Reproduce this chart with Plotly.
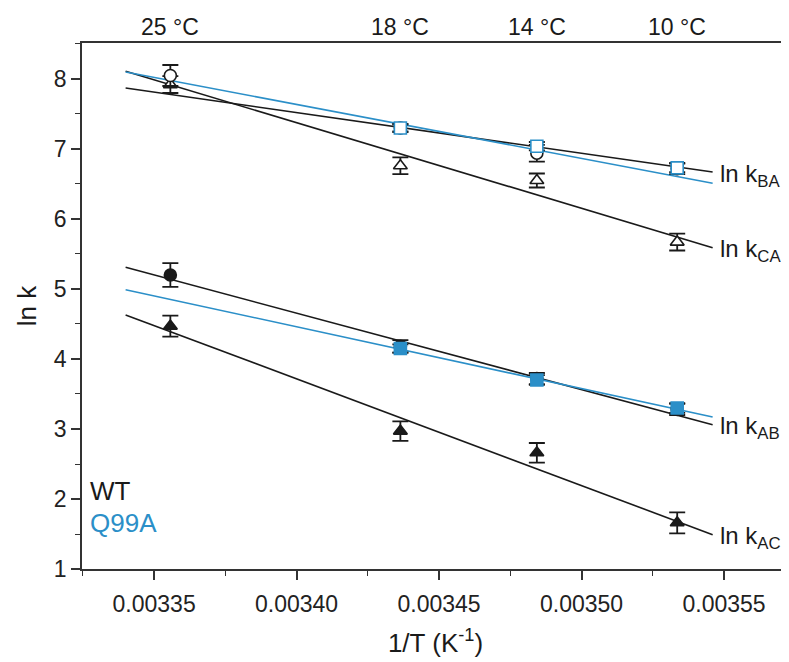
import plotly.graph_objects as go

# ---- data ----
temps_C = [25, 18, 14, 10]
T_K = [298, 291, 287, 283]
inv_T = [1.0 / t for t in T_K]
inv_T_q = inv_T[1:]  # Q99A measured at 18, 14, 10 C

WT_kBA = [8.05, 7.30, 6.94, 6.72]
WT_kBA_err = [0.15, 0.06, 0.12, 0.08]
WT_kCA = [7.92, 6.76, 6.55, 5.67]
WT_kCA_err = [0.12, 0.12, 0.10, 0.12]
WT_kAB = [5.20, 4.18, 3.72, 3.28]
WT_kAB_err = [0.17, 0.09, 0.08, 0.08]
WT_kAC = [4.47, 2.97, 2.66, 1.66]
WT_kAC_err = [0.15, 0.14, 0.14, 0.15]

Q_kBA = [7.30, 7.04, 6.73]
Q_kBA_err = [0.05, 0.06, 0.06]
Q_kAB = [4.15, 3.70, 3.30]
Q_kAB_err = [0.06, 0.07, 0.07]

# fitted Arrhenius lines (values at the ends of the fit range)
fit_x = [0.00334, 0.003546]
WT_kBA_fit = [7.87, 6.67]
WT_kCA_fit = [8.11, 5.59]
WT_kAB_fit = [5.31, 3.06]
WT_kAC_fit = [4.63, 1.49]
Q_kBA_fit = [8.10, 6.51]
Q_kAB_fit = [4.99, 3.17]

x_ticks = [0.00335, 0.00340, 0.00345, 0.00350, 0.00355]
x_ticklabels = ["0.00335", "0.00340", "0.00345", "0.00350", "0.00355"]
right_labels = ["ln k<sub>BA</sub>", "ln k<sub>CA</sub>", "ln k<sub>AB</sub>", "ln k<sub>AC</sub>"]

BLACK = "#1a1a1a"
BLUE = "#2b8fc8"
FONT = "Liberation Sans Narrow, Arial Narrow, Liberation Sans, Arial, sans-serif"

fig = go.Figure()

# fit lines
for ys, col in [(WT_kBA_fit, BLACK), (WT_kCA_fit, BLACK), (WT_kAB_fit, BLACK),
                (WT_kAC_fit, BLACK), (Q_kBA_fit, BLUE), (Q_kAB_fit, BLUE)]:
    fig.add_trace(go.Scatter(x=fit_x, y=ys, mode="lines",
                             line=dict(color=col, width=1.6), showlegend=False,
                             hoverinfo="skip"))

def pts(x, y, err, symbol, fill, edge):
    fig.add_trace(go.Scatter(
        x=x, y=y, mode="markers", showlegend=False,
        marker=dict(symbol=symbol, size=12, color=fill,
                    line=dict(color=edge, width=1.6)),
        error_y=dict(type="data", array=err, color=BLACK, thickness=1.8, width=8),
    ))

pts(inv_T, WT_kCA, WT_kCA_err, "triangle-up", "white", BLACK)
pts(inv_T, WT_kBA, WT_kBA_err, "circle", "white", BLACK)
pts(inv_T_q, Q_kBA, Q_kBA_err, "square", "white", BLUE)
pts(inv_T, WT_kAC, WT_kAC_err, "triangle-up", BLACK, BLACK)
pts(inv_T, WT_kAB, WT_kAB_err, "circle", BLACK, BLACK)
pts(inv_T_q, Q_kAB, Q_kAB_err, "square", BLUE, BLUE)

annotations = []
# top temperature labels
for xv, tc in zip(inv_T, temps_C):
    annotations.append(dict(x=xv, y=1, xref="x", yref="paper", yanchor="bottom",
                            yshift=1, text=f"{tc} °C", showarrow=False,
                            font=dict(size=23, color=BLACK, family=FONT)))
# right line labels
for lab, ys in zip(right_labels, [WT_kBA_fit, WT_kCA_fit, WT_kAB_fit, WT_kAC_fit]):
    annotations.append(dict(x=fit_x[1], y=ys[1], xref="x", yref="y",
                            xanchor="left", yanchor="middle", xshift=5, yshift=-3,
                            text=lab, showarrow=False,
                            font=dict(size=24, color=BLACK, family=FONT)))
# legend texts
annotations.append(dict(x=0.008, y=0.148, xref="paper", yref="paper", xanchor="left",
                        yanchor="middle", text="WT", showarrow=False,
                        font=dict(size=26, color=BLACK, family=FONT)))
annotations.append(dict(x=0.008, y=0.088, xref="paper", yref="paper", xanchor="left",
                        yanchor="middle", text="Q99A", showarrow=False,
                        font=dict(size=26, color=BLUE, family=FONT)))

axis_common = dict(showgrid=False, zeroline=False, showline=True, automargin=False,
                   linecolor="#333333", linewidth=1.8, ticks="outside",
                   tickcolor="#333333", tickwidth=1.6, ticklen=9,
                   tickfont=dict(size=23, color="#222222", family=FONT))

# the page adds an 8 px body margin, so the figure is sized/offset to compensate
fig.update_layout(
    width=781, height=654,
    margin=dict(l=74, r=0, t=35, b=93),
    paper_bgcolor="white", plot_bgcolor="white",
    showlegend=False,
    annotations=annotations,
    xaxis=dict(range=[0.0033247, 0.0035728], tickvals=x_ticks, ticktext=x_ticklabels,
               mirror=True, ticklabelstandoff=4,
               minor=dict(tickvals=[0.003375, 0.003425, 0.003475, 0.003525, 0.003325],
                          ticks="outside", ticklen=5, tickcolor="#333333", tickwidth=1.4),
               title=dict(text="1/T (K<sup>-1</sup>)", standoff=18,
                          font=dict(size=26, color=BLACK, family=FONT)),
               **axis_common),
    yaxis=dict(range=[1, 8.514], dtick=1, tick0=1,
               minor=dict(dtick=0.5, ticks="outside", ticklen=5, tickcolor="#333333",
                          tickwidth=1.4),
               title=dict(text="ln k", standoff=10,
                          font=dict(size=26, color=BLACK, family=FONT)),
               **axis_common),
)

fig.write_html("out.html")
